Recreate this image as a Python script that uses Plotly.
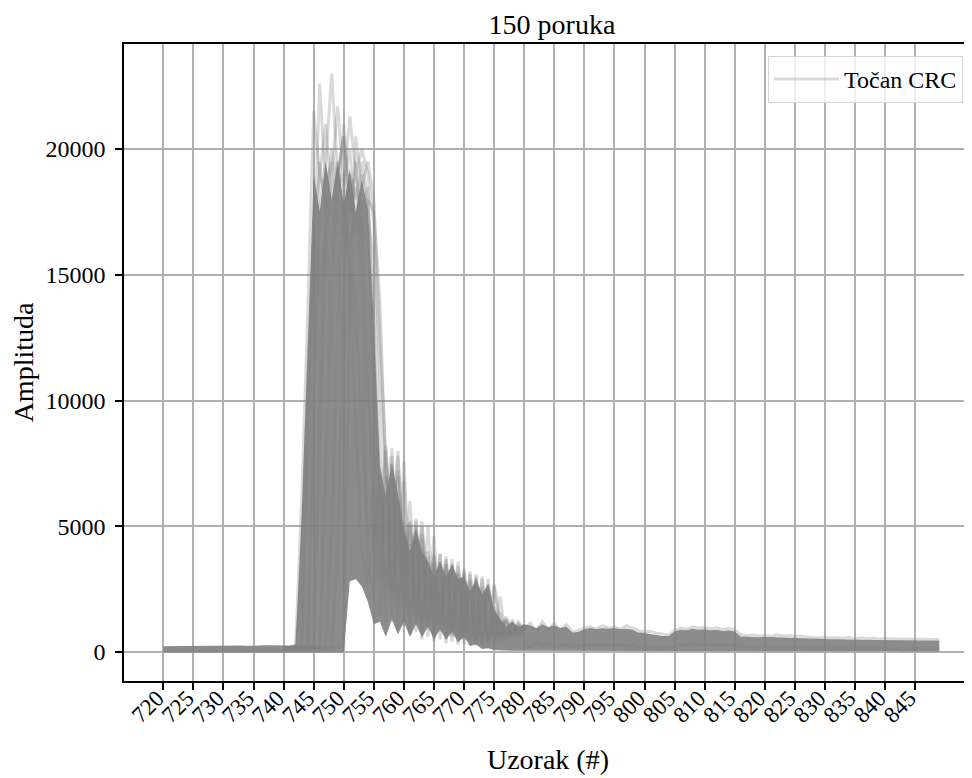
import plotly.graph_objects as go

# ---------------- data ----------------
samples = list(range(720, 850))          # sample index axis (720 ... 849)
active_samples = list(range(740, 781))   # burst region
tail_samples = list(range(780, 850))     # decay / tail region

x_ticks = [720, 725, 730, 735, 740, 745, 750, 755, 760, 765, 770, 775, 780,
           785, 790, 795, 800, 805, 810, 815, 820, 825, 830, 835, 840, 845]
y_ticks = [0, 5000, 10000, 15000, 20000]
y_tick_labels = ["0", "5000", "10000", "15000", "20000"]

# dense core of the 150 overlaid traces (upper / lower edge of the solid grey mass)
core_high = [
    230, 240, 230, 240, 235, 240, 245, 240, 250, 245, 240, 250, 245, 255, 250, 245, 255, 265, 270, 265, 260, 260,
    300, 5500, 12000, 19000, 17500, 19500, 18000, 19500, 17800, 19200, 17500, 18800, 17600, 13000,
    7400, 6200, 7500, 6300, 4900, 4000, 4900, 4000, 3600, 3000, 3600, 3000, 3500, 2900,
    3000, 2400, 2900, 2300, 2700, 1700, 1300, 1000, 1200, 1000, 1100,
    1050, 950, 1100, 980, 1050, 950, 1000, 780, 800, 900,
    950, 900, 950, 920, 950, 900, 930, 880, 780, 760,
    720, 700, 640, 640, 820, 880, 860, 920, 880, 900,
    860, 880, 840, 860, 820, 620, 600, 600, 590, 600,
    580, 590, 580, 570, 560, 560, 550, 520, 520, 520,
    510, 510, 500, 500, 500, 490, 490, 480, 480, 480,
    470, 470, 470, 460, 460, 460, 450, 450, 450,
]
core_low = [
    -20, -25, -20, -15, -20, -25, -20, -20, -15, -20, -20, -25, -20, -15, -20,
    -20, -25, -20, -15, -20, -20, -25, -20, -20, -15, -20, -20, -25, -20, -20,
    -20, 2800, 2900, 2600, 2000, 1100, 1200, 600, 1300, 700, 1200, 600, 1100, 600, 1000, 500,
    900, 500, 800, 400, 600, 250, 300, 120, 150, 80, 60, 50, 50, 50, 50,
    40, 50, 40, 50, 45, 40, 50, 45, 40, 50,
    45, 40, 50, 40, 45, 50, 40, 45, 40, 30,
    30, 35, 30, 40, 45, 40, 50, 45, 40, 50,
    45, 40, 50, 40, 45, 40, 35, 40, 30, 40,
    35, 40, 30, 40, 35, 30, 40, 35, 30, 40,
    35, 30, 40, 35, 30, 35, 30, 25, 30, 25,
    30, 25, 20, 25, 20, 25, 20, 20, 20,
]

# representative individual messages over the burst region (740 ... 780)
msg_01 = [150, 160, 210, 6000, 13500, 21500, 19000, 18000, 17500, 16500, 17000, 15500, 14000, 9000, 4500,
          6500, 3000, 5500, 2000, 4800, 1500, 3800, 1200, 3300, 900, 2700, 800, 2300, 600, 2000, 500,
          1600, 400, 1300, 500, 1000, 600, 900, 700, 950, 800]
msg_02 = [140, 150, 160, 180, 7000, 15500, 22600, 18500, 19500, 17000, 18000, 16000, 17500, 15000, 10000,
          7800, 3500, 8000, 2500, 7000, 1800, 4800, 1400, 4200, 1000, 3500, 900, 3300, 700, 2800, 600,
          2500, 400, 2000, 600, 1500, 700, 1200, 800, 1000, 900]
msg_03 = [120, 130, 150, 160, 170, 9000, 17500, 19500, 23000, 19000, 20500, 18000, 19000, 17500, 18500,
          12000, 6500, 2500, 7800, 2000, 5200, 1500, 5000, 1100, 3800, 900, 3600, 700, 3400, 600, 3100,
          500, 2900, 400, 2600, 500, 1300, 700, 1100, 800, 1000]
msg_04 = [160, 170, 150, 170, 180, 200, 8000, 16000, 19000, 21700, 18500, 20000, 17000, 19000, 17500,
          15500, 8200, 3000, 7500, 2200, 6800, 1500, 5200, 1200, 4000, 1000, 3900, 800, 3500, 700, 3200,
          500, 3000, 400, 2700, 600, 1600, 600, 1200, 700, 1050]
msg_05 = [130, 140, 150, 140, 160, 150, 170, 180, 5000, 13000, 18500, 21300, 19000, 20000, 19000,
          17000, 11000, 6000, 8100, 3500, 7600, 2600, 5300, 1800, 5000, 1400, 3900, 1100, 3700, 900, 3300,
          700, 3100, 500, 2900, 400, 2200, 500, 1300, 600, 1100]
msg_06 = [150, 150, 160, 150, 160, 170, 160, 170, 180, 200, 300, 14000, 20500, 18500, 19500,
          18000, 12500, 7800, 4000, 8000, 3000, 6000, 2200, 5200, 1700, 4600, 1300, 3800, 1000, 3600, 800,
          3200, 600, 3000, 500, 2600, 900, 1400, 700, 1200, 900]
msg_07 = [140, 150, 160, 3000, 11000, 16500, 14000, 17000, 12000, 16000, 11500, 15000, 12000, 14000, 3500,
          2200, 5500, 1200, 5000, 900, 4200, 700, 3500, 500, 3000, 400, 2600, 350, 2200, 300, 1800,
          250, 1500, 300, 1200, 400, 900, 500, 800, 600, 700]
msg_08 = [170, 160, 170, 180, 170, 190, 200, 7500, 15000, 18000, 21000, 17500, 19500, 16500, 18000,
          13000, 2800, 7000, 2200, 6000, 2800, 5100, 1800, 4500, 1300, 3900, 1000, 3500, 800, 3200, 700,
          2800, 500, 2600, 400, 1800, 500, 1300, 600, 1100, 800]
msg_09 = [150, 160, 150, 170, 250, 11000, 19500, 17500, 20000, 18500, 19000, 14000, 9000, 4000, 2600,
          5500, 1500, 6500, 1200, 5800, 1000, 4300, 800, 3900, 600, 3300, 500, 2900, 400, 2500, 300,
          2100, 250, 1700, 300, 1300, 400, 1000, 500, 900, 600]
msg_10 = [160, 150, 170, 160, 150, 160, 170, 160, 180, 4000, 14000, 19000, 18000, 19500, 18000,
          17500, 14000, 7000, 5000, 7800, 4000, 5200, 3000, 5000, 2200, 3800, 1800, 3700, 1400, 3400, 1100,
          3100, 900, 2900, 700, 2700, 1200, 1100, 900, 1000, 850]
msg_11 = [140, 150, 150, 160, 150, 170, 10500, 18000, 16000, 19000, 20500, 17500, 18500, 16000, 17000,
          9000, 5800, 8200, 3300, 7200, 2500, 5000, 2000, 4700, 1500, 3600, 1200, 3500, 900, 3100, 700,
          2900, 500, 2400, 500, 1700, 600, 1300, 800, 1100, 950]
msg_12 = [150, 140, 160, 400, 9500, 17000, 19000, 21000, 18000, 19500, 17500, 18500, 16500, 17500, 12000,
          4000, 7000, 2000, 6200, 1500, 5000, 1100, 4400, 800, 3500, 600, 3100, 500, 2700, 400, 2400,
          300, 2000, 300, 1600, 400, 1100, 600, 1000, 700, 900]
burst_messages = [msg_01, msg_02, msg_03, msg_04, msg_05, msg_06,
                  msg_07, msg_08, msg_09, msg_10, msg_11, msg_12]

# representative messages over the tail (780 ... 849)
tail_upper = [900, 1150, 800, 1200, 900, 1150, 850, 1100, 800, 850,
              950, 1000, 900, 1050, 950, 1000, 900, 1050, 950, 850,
              800, 820, 750, 700, 680, 850, 950, 900, 1000, 950,
              980, 920, 960, 900, 940, 880, 700, 650, 680, 640,
              660, 620, 680, 640, 660, 620, 640, 600, 580, 560,
              590, 560, 570, 550, 580, 540, 560, 530, 550, 520,
              540, 520, 530, 510, 520, 500, 520, 500, 510, 490]
tail_lower = [300, 200, 400, 250, 350, 200, 300, 250, 200, 250,
              300, 250, 300, 250, 280, 260, 300, 240, 280, 200,
              150, 180, 160, 150, 170, 250, 300, 280, 320, 300,
              310, 290, 300, 280, 290, 270, 220, 200, 210, 190,
              200, 180, 200, 190, 200, 180, 190, 170, 180, 160,
              170, 160, 170, 150, 160, 150, 160, 140, 150, 140,
              150, 130, 140, 130, 140, 120, 130, 120, 130, 120]
tail_messages = [tail_upper, tail_lower]

series_name = "Točan CRC"

# ---------------- figure ----------------
LINE = "rgba(128,128,128,0.30)"
CORE = "rgba(128,128,128,0.90)"
FONT = "Liberation Serif"

# the page body adds an 8 px margin, so the figure is 8 px smaller on each axis
W, H = 964, 770
L, T, B = 116, 36, 97

fig = go.Figure()

fig.add_trace(go.Scatter(x=samples, y=core_low, mode="lines", line=dict(width=0, color=CORE),
                         showlegend=False, hoverinfo="skip"))
fig.add_trace(go.Scatter(x=samples, y=core_high, mode="lines", line=dict(width=0, color=CORE),
                         fill="tonexty", fillcolor=CORE, showlegend=False, hoverinfo="skip"))

first = True
for vals in burst_messages:
    fig.add_trace(go.Scatter(x=active_samples, y=vals, mode="lines",
                             line=dict(color=LINE, width=3),
                             name=series_name, legendgroup="crc", showlegend=first))
    first = False
for vals in tail_messages:
    fig.add_trace(go.Scatter(x=tail_samples, y=vals, mode="lines",
                             line=dict(color=LINE, width=3),
                             name=series_name, legendgroup="crc", showlegend=False))

plot_w = W - L
plot_h = H - T - B
fig.update_layout(
    width=W, height=H,
    margin=dict(l=L, r=0, t=T, b=B, autoexpand=False),
    paper_bgcolor="white", plot_bgcolor="white",
    font=dict(family=FONT, size=24, color="black"),
    title=dict(text="150 poruka", x=(544 - L) / plot_w, xref="paper", xanchor="center",
               y=1 - 16 / H, yanchor="middle", font=dict(family=FONT, size=28, color="black")),
    legend=dict(x=(760 - L) / plot_w, xanchor="left", y=(T + plot_h - 48) / plot_h, yanchor="top",
                bgcolor="rgba(255,255,255,0.8)", bordercolor="#d5d5d5", borderwidth=1,
                font=dict(family=FONT, size=24, color="black"), itemwidth=65),
    showlegend=True,
)
fig.update_xaxes(
    range=[713.47, 854.43], tickmode="array", tickvals=x_ticks,
    ticktext=[str(t) for t in x_ticks], tickangle=-45, automargin=False,
    ticklabelstandoff=-14, ticklabelshift=-6,
    showgrid=True, gridcolor="#b0b0b0", gridwidth=1.5, zeroline=False,
    showline=True, linecolor="black", linewidth=1.5, mirror=True,
    ticks="outside", ticklen=7, tickwidth=1.5, tickcolor="black",
    tickfont=dict(family=FONT, size=23, color="black"),
    title=dict(text="Uzorak (#)", font=dict(family=FONT, size=28, color="black"), standoff=22),
)
fig.update_yaxes(
    range=[-1153, 24175], tickmode="array", tickvals=y_ticks, ticktext=y_tick_labels,
    automargin=False, ticklabelstandoff=5,
    showgrid=True, gridcolor="#b0b0b0", gridwidth=1.5, zeroline=False,
    showline=True, linecolor="black", linewidth=1.5, mirror=False,
    ticks="outside", ticklen=7, tickwidth=1.5, tickcolor="black",
    tickfont=dict(family=FONT, size=24, color="black"),
    title=dict(text="Amplituda", font=dict(family=FONT, size=28, color="black"), standoff=12),
)

fig.write_html("out.html")
